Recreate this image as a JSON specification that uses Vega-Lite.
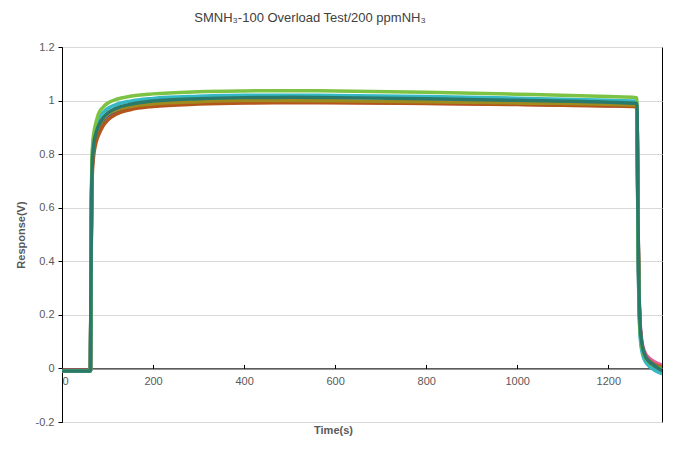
{
  "$schema": "https://vega.github.io/schema/vega-lite/v6.json",
  "autosize": "none",
  "width": 600,
  "height": 375,
  "padding": {"left": 62, "top": 47, "right": 20, "bottom": 33},
  "background": "white",
  "config": {
    "font": "Liberation Sans",
    "view": {"stroke": "#000000", "strokeWidth": 1}
  },
  "title": {
    "text": "SMNH₃-100 Overload Test/200 ppmNH₃",
    "fontSize": 13,
    "fontWeight": "normal",
    "color": "#404040",
    "anchor": "middle",
    "dx": -52,
    "offset": 16
  },
  "data": {
    "values": [
      {"s": "K", "t": 0, "v": -0.008}, {"s": "K", "t": 61, "v": -0.008}, {"s": "K", "t": 62.5, "v": -0.005}, {"s": "K", "t": 63.5, "v": 0.3}, {"s": "K", "t": 65, "v": 0.64}, {"s": "K", "t": 67, "v": 0.77}, {"s": "K", "t": 70, "v": 0.83}, {"s": "K", "t": 75, "v": 0.87}, {"s": "K", "t": 80, "v": 0.895}, {"s": "K", "t": 90, "v": 0.925}, {"s": "K", "t": 100, "v": 0.943}, {"s": "K", "t": 120, "v": 0.96}, {"s": "K", "t": 150, "v": 0.973}, {"s": "K", "t": 200, "v": 0.983}, {"s": "K", "t": 300, "v": 0.99}, {"s": "K", "t": 400, "v": 0.993}, {"s": "K", "t": 500, "v": 0.994}, {"s": "K", "t": 600, "v": 0.993}, {"s": "K", "t": 800, "v": 0.99}, {"s": "K", "t": 1000, "v": 0.986}, {"s": "K", "t": 1200, "v": 0.981}, {"s": "K", "t": 1262, "v": 0.978}, {"s": "K", "t": 1263.5, "v": 0.93}, {"s": "K", "t": 1265, "v": 0.6}, {"s": "K", "t": 1267, "v": 0.34}, {"s": "K", "t": 1270, "v": 0.17}, {"s": "K", "t": 1275, "v": 0.09}, {"s": "K", "t": 1280, "v": 0.062}, {"s": "K", "t": 1290, "v": 0.038}, {"s": "K", "t": 1300, "v": 0.026}, {"s": "K", "t": 1318, "v": 0.012},
      {"s": "P", "t": 0, "v": -0.009}, {"s": "P", "t": 61, "v": -0.009}, {"s": "P", "t": 62.5, "v": -0.006}, {"s": "P", "t": 63.5, "v": 0.31}, {"s": "P", "t": 65, "v": 0.65}, {"s": "P", "t": 67, "v": 0.78}, {"s": "P", "t": 70, "v": 0.84}, {"s": "P", "t": 75, "v": 0.875}, {"s": "P", "t": 80, "v": 0.9}, {"s": "P", "t": 90, "v": 0.93}, {"s": "P", "t": 100, "v": 0.947}, {"s": "P", "t": 120, "v": 0.964}, {"s": "P", "t": 150, "v": 0.977}, {"s": "P", "t": 200, "v": 0.987}, {"s": "P", "t": 300, "v": 0.994}, {"s": "P", "t": 400, "v": 0.997}, {"s": "P", "t": 500, "v": 0.998}, {"s": "P", "t": 600, "v": 0.997}, {"s": "P", "t": 800, "v": 0.994}, {"s": "P", "t": 1000, "v": 0.989}, {"s": "P", "t": 1200, "v": 0.984}, {"s": "P", "t": 1262, "v": 0.981}, {"s": "P", "t": 1263.5, "v": 0.93}, {"s": "P", "t": 1265, "v": 0.58}, {"s": "P", "t": 1267, "v": 0.32}, {"s": "P", "t": 1270, "v": 0.155}, {"s": "P", "t": 1275, "v": 0.08}, {"s": "P", "t": 1280, "v": 0.052}, {"s": "P", "t": 1290, "v": 0.028}, {"s": "P", "t": 1300, "v": 0.014}, {"s": "P", "t": 1318, "v": 0.0},
      {"s": "U", "t": 0, "v": -0.01}, {"s": "U", "t": 61, "v": -0.01}, {"s": "U", "t": 62.5, "v": -0.007}, {"s": "U", "t": 63.5, "v": 0.3}, {"s": "U", "t": 65, "v": 0.64}, {"s": "U", "t": 67, "v": 0.775}, {"s": "U", "t": 70, "v": 0.835}, {"s": "U", "t": 75, "v": 0.87}, {"s": "U", "t": 80, "v": 0.895}, {"s": "U", "t": 90, "v": 0.926}, {"s": "U", "t": 100, "v": 0.944}, {"s": "U", "t": 120, "v": 0.962}, {"s": "U", "t": 150, "v": 0.975}, {"s": "U", "t": 200, "v": 0.985}, {"s": "U", "t": 300, "v": 0.992}, {"s": "U", "t": 400, "v": 0.995}, {"s": "U", "t": 500, "v": 0.996}, {"s": "U", "t": 600, "v": 0.995}, {"s": "U", "t": 800, "v": 0.992}, {"s": "U", "t": 1000, "v": 0.987}, {"s": "U", "t": 1200, "v": 0.982}, {"s": "U", "t": 1262, "v": 0.979}, {"s": "U", "t": 1263.5, "v": 0.92}, {"s": "U", "t": 1265, "v": 0.55}, {"s": "U", "t": 1267, "v": 0.29}, {"s": "U", "t": 1270, "v": 0.135}, {"s": "U", "t": 1275, "v": 0.065}, {"s": "U", "t": 1280, "v": 0.04}, {"s": "U", "t": 1290, "v": 0.016}, {"s": "U", "t": 1300, "v": 0.002}, {"s": "U", "t": 1318, "v": -0.012},
      {"s": "B", "t": 0, "v": -0.008}, {"s": "B", "t": 61, "v": -0.008}, {"s": "B", "t": 62.5, "v": -0.005}, {"s": "B", "t": 63.5, "v": 0.28}, {"s": "B", "t": 65, "v": 0.6}, {"s": "B", "t": 67, "v": 0.74}, {"s": "B", "t": 70, "v": 0.8}, {"s": "B", "t": 75, "v": 0.845}, {"s": "B", "t": 80, "v": 0.87}, {"s": "B", "t": 90, "v": 0.905}, {"s": "B", "t": 100, "v": 0.926}, {"s": "B", "t": 120, "v": 0.95}, {"s": "B", "t": 150, "v": 0.966}, {"s": "B", "t": 200, "v": 0.978}, {"s": "B", "t": 300, "v": 0.987}, {"s": "B", "t": 400, "v": 0.991}, {"s": "B", "t": 500, "v": 0.992}, {"s": "B", "t": 600, "v": 0.992}, {"s": "B", "t": 800, "v": 0.989}, {"s": "B", "t": 1000, "v": 0.985}, {"s": "B", "t": 1200, "v": 0.98}, {"s": "B", "t": 1262, "v": 0.977}, {"s": "B", "t": 1263.5, "v": 0.92}, {"s": "B", "t": 1265, "v": 0.57}, {"s": "B", "t": 1267, "v": 0.31}, {"s": "B", "t": 1270, "v": 0.15}, {"s": "B", "t": 1275, "v": 0.078}, {"s": "B", "t": 1280, "v": 0.05}, {"s": "B", "t": 1290, "v": 0.028}, {"s": "B", "t": 1300, "v": 0.016}, {"s": "B", "t": 1318, "v": 0.005},
      {"s": "O", "t": 0, "v": -0.009}, {"s": "O", "t": 61, "v": -0.009}, {"s": "O", "t": 62.5, "v": -0.006}, {"s": "O", "t": 63.5, "v": 0.32}, {"s": "O", "t": 65, "v": 0.66}, {"s": "O", "t": 67, "v": 0.79}, {"s": "O", "t": 70, "v": 0.845}, {"s": "O", "t": 75, "v": 0.88}, {"s": "O", "t": 80, "v": 0.9}, {"s": "O", "t": 90, "v": 0.93}, {"s": "O", "t": 100, "v": 0.948}, {"s": "O", "t": 120, "v": 0.965}, {"s": "O", "t": 150, "v": 0.978}, {"s": "O", "t": 200, "v": 0.988}, {"s": "O", "t": 300, "v": 0.996}, {"s": "O", "t": 400, "v": 1.0}, {"s": "O", "t": 500, "v": 1.0}, {"s": "O", "t": 600, "v": 0.999}, {"s": "O", "t": 800, "v": 0.996}, {"s": "O", "t": 1000, "v": 0.991}, {"s": "O", "t": 1200, "v": 0.986}, {"s": "O", "t": 1262, "v": 0.983}, {"s": "O", "t": 1263.5, "v": 0.93}, {"s": "O", "t": 1265, "v": 0.58}, {"s": "O", "t": 1267, "v": 0.32}, {"s": "O", "t": 1270, "v": 0.15}, {"s": "O", "t": 1275, "v": 0.076}, {"s": "O", "t": 1280, "v": 0.048}, {"s": "O", "t": 1290, "v": 0.025}, {"s": "O", "t": 1300, "v": 0.012}, {"s": "O", "t": 1318, "v": 0.0},
      {"s": "C", "t": 0, "v": -0.01}, {"s": "C", "t": 61, "v": -0.01}, {"s": "C", "t": 62.5, "v": -0.007}, {"s": "C", "t": 63.5, "v": 0.33}, {"s": "C", "t": 65, "v": 0.68}, {"s": "C", "t": 67, "v": 0.81}, {"s": "C", "t": 70, "v": 0.86}, {"s": "C", "t": 75, "v": 0.9}, {"s": "C", "t": 80, "v": 0.93}, {"s": "C", "t": 90, "v": 0.955}, {"s": "C", "t": 100, "v": 0.97}, {"s": "C", "t": 120, "v": 0.986}, {"s": "C", "t": 150, "v": 0.998}, {"s": "C", "t": 200, "v": 1.008}, {"s": "C", "t": 300, "v": 1.016}, {"s": "C", "t": 400, "v": 1.02}, {"s": "C", "t": 500, "v": 1.02}, {"s": "C", "t": 600, "v": 1.019}, {"s": "C", "t": 800, "v": 1.015}, {"s": "C", "t": 1000, "v": 1.009}, {"s": "C", "t": 1200, "v": 1.001}, {"s": "C", "t": 1262, "v": 0.998}, {"s": "C", "t": 1263.5, "v": 0.9}, {"s": "C", "t": 1265, "v": 0.52}, {"s": "C", "t": 1267, "v": 0.27}, {"s": "C", "t": 1270, "v": 0.12}, {"s": "C", "t": 1275, "v": 0.055}, {"s": "C", "t": 1280, "v": 0.03}, {"s": "C", "t": 1290, "v": 0.008}, {"s": "C", "t": 1300, "v": -0.005}, {"s": "C", "t": 1318, "v": -0.02},
      {"s": "G", "t": 0, "v": -0.01}, {"s": "G", "t": 61, "v": -0.01}, {"s": "G", "t": 62.5, "v": -0.007}, {"s": "G", "t": 63.5, "v": 0.35}, {"s": "G", "t": 65, "v": 0.7}, {"s": "G", "t": 67, "v": 0.83}, {"s": "G", "t": 70, "v": 0.88}, {"s": "G", "t": 75, "v": 0.92}, {"s": "G", "t": 80, "v": 0.95}, {"s": "G", "t": 90, "v": 0.975}, {"s": "G", "t": 100, "v": 0.99}, {"s": "G", "t": 120, "v": 1.005}, {"s": "G", "t": 150, "v": 1.016}, {"s": "G", "t": 200, "v": 1.025}, {"s": "G", "t": 300, "v": 1.033}, {"s": "G", "t": 400, "v": 1.036}, {"s": "G", "t": 500, "v": 1.037}, {"s": "G", "t": 600, "v": 1.036}, {"s": "G", "t": 800, "v": 1.031}, {"s": "G", "t": 1000, "v": 1.024}, {"s": "G", "t": 1200, "v": 1.015}, {"s": "G", "t": 1262, "v": 1.011}, {"s": "G", "t": 1263.5, "v": 0.92}, {"s": "G", "t": 1265, "v": 0.56}, {"s": "G", "t": 1267, "v": 0.3}, {"s": "G", "t": 1270, "v": 0.14}, {"s": "G", "t": 1275, "v": 0.07}, {"s": "G", "t": 1280, "v": 0.045}, {"s": "G", "t": 1290, "v": 0.022}, {"s": "G", "t": 1300, "v": 0.01}, {"s": "G", "t": 1318, "v": -0.005},
      {"s": "T", "t": 0, "v": -0.01}, {"s": "T", "t": 61, "v": -0.01}, {"s": "T", "t": 62.5, "v": -0.007}, {"s": "T", "t": 63.5, "v": 0.3}, {"s": "T", "t": 65, "v": 0.64}, {"s": "T", "t": 67, "v": 0.78}, {"s": "T", "t": 70, "v": 0.84}, {"s": "T", "t": 75, "v": 0.88}, {"s": "T", "t": 80, "v": 0.905}, {"s": "T", "t": 90, "v": 0.935}, {"s": "T", "t": 100, "v": 0.953}, {"s": "T", "t": 120, "v": 0.972}, {"s": "T", "t": 150, "v": 0.986}, {"s": "T", "t": 200, "v": 0.998}, {"s": "T", "t": 300, "v": 1.007}, {"s": "T", "t": 400, "v": 1.011}, {"s": "T", "t": 500, "v": 1.012}, {"s": "T", "t": 600, "v": 1.011}, {"s": "T", "t": 800, "v": 1.007}, {"s": "T", "t": 1000, "v": 1.001}, {"s": "T", "t": 1200, "v": 0.994}, {"s": "T", "t": 1262, "v": 0.99}, {"s": "T", "t": 1263.5, "v": 0.95}, {"s": "T", "t": 1265, "v": 0.6}, {"s": "T", "t": 1267, "v": 0.33}, {"s": "T", "t": 1270, "v": 0.16}, {"s": "T", "t": 1275, "v": 0.08}, {"s": "T", "t": 1280, "v": 0.05}, {"s": "T", "t": 1290, "v": 0.025}, {"s": "T", "t": 1300, "v": 0.012}, {"s": "T", "t": 1318, "v": -0.008}
    ]
  },
  "mark": {"type": "line", "strokeWidth": 3.5, "interpolate": "monotone", "clip": true},
  "encoding": {
    "x": {
      "field": "t",
      "type": "quantitative",
      "title": "Time(s)",
      "scale": {"domain": [0, 1318], "nice": false, "zero": false},
      "axis": {
        "values": [0, 200, 400, 600, 800, 1000, 1200],
        "format": "d",
        "grid": false,
        "offset": -53.57,
        "domainColor": "#000000",
        "tickColor": "#000000",
        "tickSize": -4,
        "labelPadding": 11,
        "labelColor": "#595959",
        "labelFontSize": 11,
        "titleFontSize": 11,
        "titleFontWeight": "bold",
        "titleColor": "#595959",
        "titleX": 271,
        "titleY": 56
      }
    },
    "y": {
      "field": "v",
      "type": "quantitative",
      "title": "Response(V)",
      "scale": {"domain": [-0.2, 1.2], "nice": false, "zero": false},
      "axis": {
        "values": [-0.2, 0, 0.2, 0.4, 0.6, 0.8, 1, 1.2],
        "labelExpr": "replace(format(datum.value, '~g'), '−', '-')",
        "gridColor": "#d9d9d9",
        "domainColor": "#000000",
        "tickColor": "#000000",
        "tickSize": 4,
        "labelPadding": 4,
        "labelColor": "#595959",
        "labelFontSize": 11,
        "titleFontSize": 11,
        "titleFontWeight": "bold",
        "titleColor": "#595959",
        "titlePadding": 9
      }
    },
    "color": {
      "field": "s",
      "type": "nominal",
      "legend": null,
      "sort": null,
      "scale": {
        "domain": ["K", "P", "U", "B", "O", "C", "G", "T"],
        "range": ["#e0609a", "#7a3e9c", "#3d55a8", "#b4561c", "#a08c1e", "#35b8c4", "#7cc243", "#2a7a6c"]
      }
    }
  }
}
